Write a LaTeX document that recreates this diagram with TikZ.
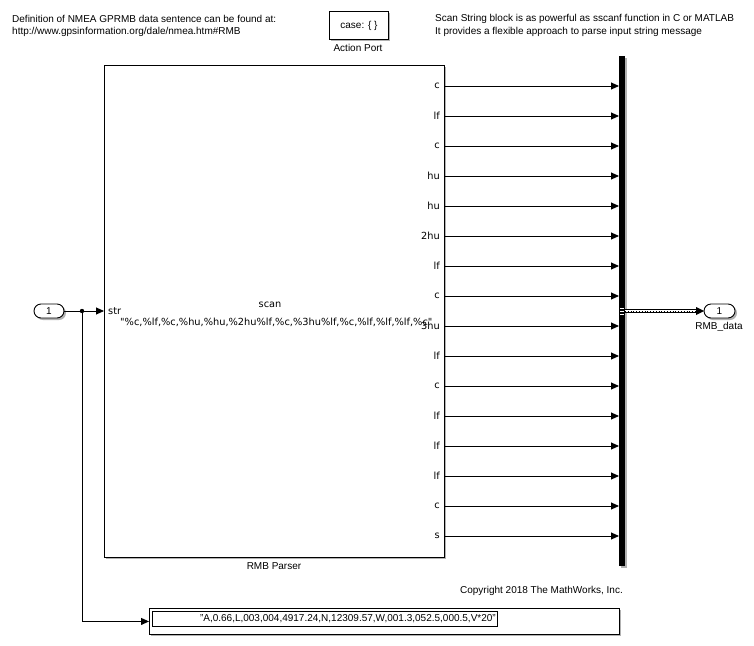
\documentclass[tikz,border=0pt]{standalone}
\usepackage{fontspec}
\setmainfont{Liberation Sans}
\newfontfamily\blkfont{DejaVu Sans}
\usetikzlibrary{arrows.meta,calc}
\begin{document}
\begin{tikzpicture}[x=1pt,y=-1pt,
  sig/.style={draw=black, line width=0.9pt, -{Triangle[length=8pt,width=7pt]}},
  blk/.style={draw=black, line width=0.9pt, fill=white},
  shad/.style={fill=black!30},
  lbl/.style={font=\fontsize{10}{12}\selectfont, inner sep=0pt},
  plbl/.style={font=\blkfont\fontsize{9.8}{12}\selectfont, inner sep=0pt},
]
\useasboundingbox (0,0) rectangle (754,645);

% annotations
\node[lbl, anchor=west] (ann1) at (12,19) {Definition of NMEA GPRMB data sentence can be found at:};
\node[lbl, anchor=west] (ann2) at (12,32) {http://www.gpsinformation.org/dale/nmea.htm\#RMB};
\node[lbl, anchor=west] (ann3) at (435,19) {Scan String block is as powerful as sscanf function in C or MATLAB};
\node[lbl, anchor=west] (ann4) at (435,32) {It provides a flexible approach to parse input string message};
\node[lbl, anchor=east] (copy) at (623,591) {Copyright 2018 The MathWorks, Inc.};

% action port
\fill[shad] (331,13) rectangle (390,41);
\node[blk, anchor=north west, minimum width=59pt, minimum height=28pt, lbl] (act) at (329,11) {case: \{ \}};
\node[lbl] (actl) at (358,48) {Action Port};

% main block
\fill[shad] (106,67) rectangle (446,559);
\node[blk, anchor=north west, minimum width=340pt, minimum height=492pt] (parser) at (104,65) {};
\node[lbl] (parl) at (274,566) {RMB Parser};
\node[plbl] (scan) at (270,305) {scan};
\node[plbl, anchor=west] (fmt) at (120,322) {"\%c,\%lf,\%c,\%hu,\%hu,\%2hu\%lf,\%c,\%3hu\%lf,\%c,\%lf,\%lf,\%lf,\%c"};
\node[plbl, anchor=west] (strl) at (108,311) {str};

% bus bar
\fill[black!30] (621,58) rectangle (627,568);
\node[fill=black, inner sep=0pt, minimum width=6pt, minimum height=510pt, anchor=north west] (bus) at (619,56) {};

% outputs
\foreach \lab [count=\i] in {c,lf,c,hu,hu,2hu,lf,c,3hu,lf,c,lf,lf,lf,c,s}{
  \coordinate (p\i) at (444,{56+30*\i});
  \node[plbl, anchor=east] (l\i) at ($(p\i)+(-4,0)$) {\lab};
  \draw[sig] (p\i) -- (bus.west |- p\i);
}

% inport
\fill[shad, rounded corners=7pt] (36,306) rectangle (66,320);
\draw[blk, rounded corners=7pt] (34,304) rectangle (64,318);
\node[lbl] (in1) at (49,311) {1};
\coordinate (inR) at (64,311);
\coordinate (br) at (82,311);
\draw[sig] (inR) -- (parser.west |- inR);
\fill (br) circle (2.2pt);

% display block
\fill[shad] (151,610) rectangle (621,636);
\node[blk, anchor=north west, minimum width=470pt, minimum height=26pt] (disp) at (149,608) {};
\node[draw=black, line width=0.9pt, anchor=north west, minimum width=345pt, minimum height=15pt, inner sep=0pt] (dispin) at (152,611) {};
\node[lbl, anchor=east] (dtext) at (496,618.5) {"A,0.66,L,003,004,4917.24,N,12309.57,W,001.3,052.5,000.5,V*20"};
\draw[sig] (br) |- (disp.west);

% outport
\fill[shad, rounded corners=7pt] (706,306) rectangle (737,320);
\draw[blk, rounded corners=7pt] (704,304) rectangle (735,318);
\node[lbl] (out1) at (719.5,311) {1};
\node[lbl] (outl) at (719,327) {RMB\_data};
\coordinate (bo) at (625,311);
\draw[line width=4pt] (bo) -- (697,311);
\draw[line width=2pt, white] (bo) -- (697,311);
\draw[line width=0.8pt, dotted] (bo) -- (697,311);
\fill (696,307) -- (704,311) -- (696,315) -- cycle;
\fill[white] (620,307.5) rectangle (624,308.5);
\fill[white] (620,310.5) rectangle (624,311.5);
\fill[white] (620,313.5) rectangle (624,314.5);
\end{tikzpicture}
\end{document}
